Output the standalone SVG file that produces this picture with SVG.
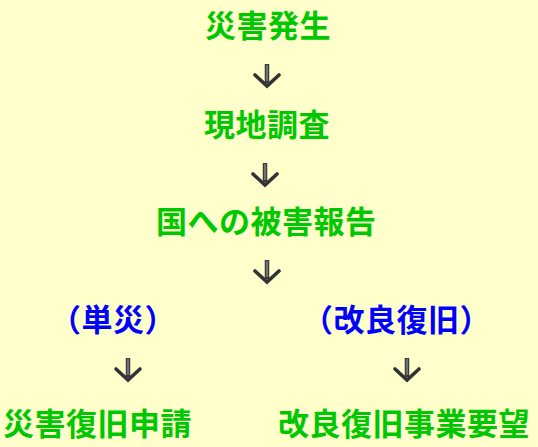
<svg xmlns="http://www.w3.org/2000/svg" width="538" height="447" viewBox="0 0 538 447">
<style>
.t{font-family:"Noto Sans CJK JP","Noto Sans CJK SC",sans-serif;font-weight:bold;font-size:31px;letter-spacing:0.5px}
.g{fill:#00c800}
.b{fill:#0000ff}
.s{fill:none;stroke:#3a3a3a;stroke-width:4.5}
.i{fill:none;stroke:#9a9a9a;stroke-width:1.2}
.h{fill:none;stroke:#333;stroke-width:3.6;stroke-linecap:round;stroke-linejoin:miter}
</style>
<defs>
<g id="arr">
<path class="s" d="M0 -22V-3"/>
<path class="i" d="M0 -21V-5"/>
<path class="h" d="M-12 -11L0 0L12 -11"/>
</g>
</defs>
<rect width="538" height="447" fill="#ffffcc"/>
<g id="connectors">
<use href="#arr" x="267" y="86"/>
<use href="#arr" x="265" y="185"/>
<use href="#arr" x="267" y="282"/>
<use href="#arr" x="128" y="380"/>
<use href="#arr" x="407" y="380"/>
</g>
<g id="n1"><text class="t g" x="205" y="37">災害発生</text></g>
<g id="n2"><text class="t g" x="204" y="136">現地調査</text></g>
<g id="n3"><text class="t g" x="156" y="233">国への被害報告</text></g>
<g id="n4"><text class="t b" x="50" y="331">（単災）</text></g>
<g id="n5"><text class="t b" x="302" y="331">（改良復旧）</text></g>
<g id="n6"><text class="t g" x="3" y="435">災害復旧申請</text></g>
<g id="n7"><text class="t g" x="278" y="435">改良復旧事業要望</text></g>
</svg>
